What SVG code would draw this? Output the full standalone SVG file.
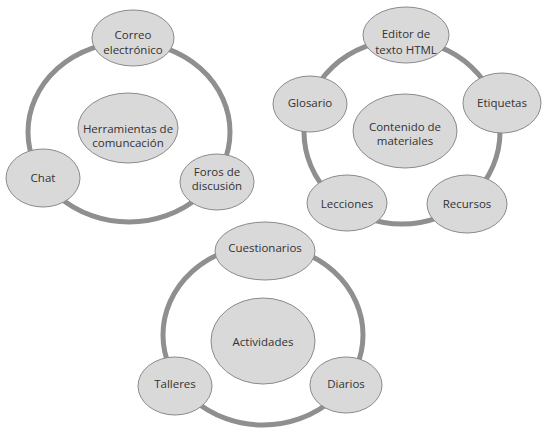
<svg xmlns="http://www.w3.org/2000/svg" width="542" height="429" viewBox="0 0 542 429">
<style>
.ring{fill:none;stroke:#8f8f8f;stroke-width:5}
.n{fill:#d9d9d9;stroke:#8a8a8a;stroke-width:1}
text{font-family:"Open Sans","Noto Sans",sans-serif;font-size:11.5px;fill:#333;text-anchor:middle}
</style>
<rect width="542" height="429" fill="#fff"/>
<g id="connectors">
<ellipse class="ring" cx="129" cy="132" rx="101" ry="90"/>
<ellipse class="ring" cx="402" cy="132" rx="98" ry="92"/>
<ellipse class="ring" cx="263" cy="335" rx="100" ry="90"/>
</g>
<g id="herramientas"><ellipse class="n" cx="128" cy="128" rx="50" ry="35"/><text x="128" y="133">Herramientas de</text><text x="128" y="147">comuncación</text></g>
<g id="correo"><ellipse class="n" cx="133" cy="38" rx="41" ry="28"/><text x="133" y="39">Correo</text><text x="133" y="54">electrónico</text></g>
<g id="chat"><ellipse class="n" cx="43" cy="178" rx="37" ry="29"/><text x="43" y="182">Chat</text></g>
<g id="foros"><ellipse class="n" cx="217" cy="182" rx="37" ry="28"/><text x="217" y="176">Foros de</text><text x="217" y="190">discusión</text></g>
<g id="contenido"><ellipse class="n" cx="405" cy="131" rx="52" ry="37"/><text x="405" y="131">Contenido de</text><text x="405" y="145">materiales</text></g>
<g id="editor"><ellipse class="n" cx="406" cy="35" rx="43" ry="28"/><text x="406" y="38">Editor de</text><text x="406" y="54">texto HTML</text></g>
<g id="glosario"><ellipse class="n" cx="310" cy="104" rx="37" ry="28"/><text x="310" y="107">Glosario</text></g>
<g id="etiquetas"><ellipse class="n" cx="502" cy="103" rx="39" ry="30"/><text x="502" y="107">Etiquetas</text></g>
<g id="lecciones"><ellipse class="n" cx="347" cy="203" rx="40" ry="28"/><text x="347" y="208">Lecciones</text></g>
<g id="recursos"><ellipse class="n" cx="467" cy="204" rx="40" ry="29"/><text x="467" y="208">Recursos</text></g>
<g id="actividades"><ellipse class="n" cx="263" cy="341" rx="52" ry="43"/><text x="263" y="346">Actividades</text></g>
<g id="cuestionarios"><ellipse class="n" cx="265" cy="251" rx="50" ry="29"/><text x="265" y="252">Cuestionarios</text></g>
<g id="talleres"><ellipse class="n" cx="175" cy="386" rx="37" ry="29"/><text x="175" y="388">Talleres</text></g>
<g id="diarios"><ellipse class="n" cx="346" cy="385" rx="36" ry="28"/><text x="346" y="388">Diarios</text></g>
</svg>
